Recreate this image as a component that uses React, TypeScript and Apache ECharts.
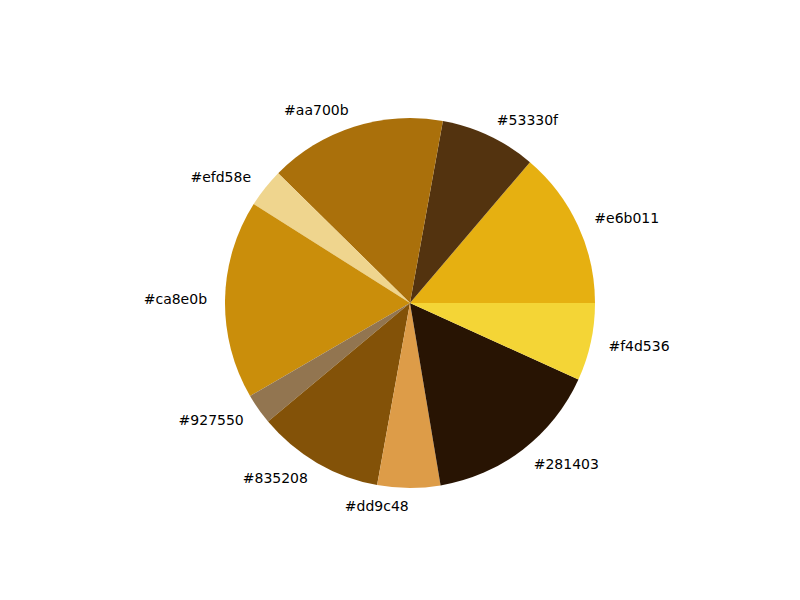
import React, { useEffect, useRef } from "react";
import * as echarts from "echarts";

const labels = ["#e6b011", "#53330f", "#aa700b", "#efd58e", "#ca8e0b", "#927550", "#835208", "#dd9c48", "#281403", "#f4d536"];
const values = [13.8, 8.4, 15.5, 3.4, 17.4, 2.7, 11.1, 5.5, 15.6, 6.8];
const colors = ["#e6b011", "#53330f", "#aa700b", "#efd58e", "#ca8e0b", "#927550", "#835208", "#dd9c48", "#281403", "#f4d536"];

export default function App() {
  const ref = useRef<HTMLDivElement>(null);
  useEffect(() => {
    const chart = echarts.init(ref.current!, null, { renderer: "svg" });
    chart.setOption({
      animation: false,
      backgroundColor: "#ffffff",
      series: [
        {
          type: "pie",
          center: [410, 303],
          radius: 185,
          startAngle: 0,
          clockwise: false,
          avoidLabelOverlap: false,
          data: labels.map((name, i) => ({ name, value: values[i], itemStyle: { color: colors[i] } })),
          label: {
            show: true,
            position: "outside",
            formatter: "{b}",
            color: "#000000",
            fontFamily: "DejaVu Sans",
            fontSize: 14,
            distanceToLabelLine: 0,
          },
          labelLine: { show: false, length: 18, length2: 0 },
          emphasis: { disabled: true },
        },
      ],
    });
    return () => chart.dispose();
  }, []);
  return <div ref={ref} style={{ position: "fixed", left: 0, top: 0, width: 800, height: 600 }} />;
}
